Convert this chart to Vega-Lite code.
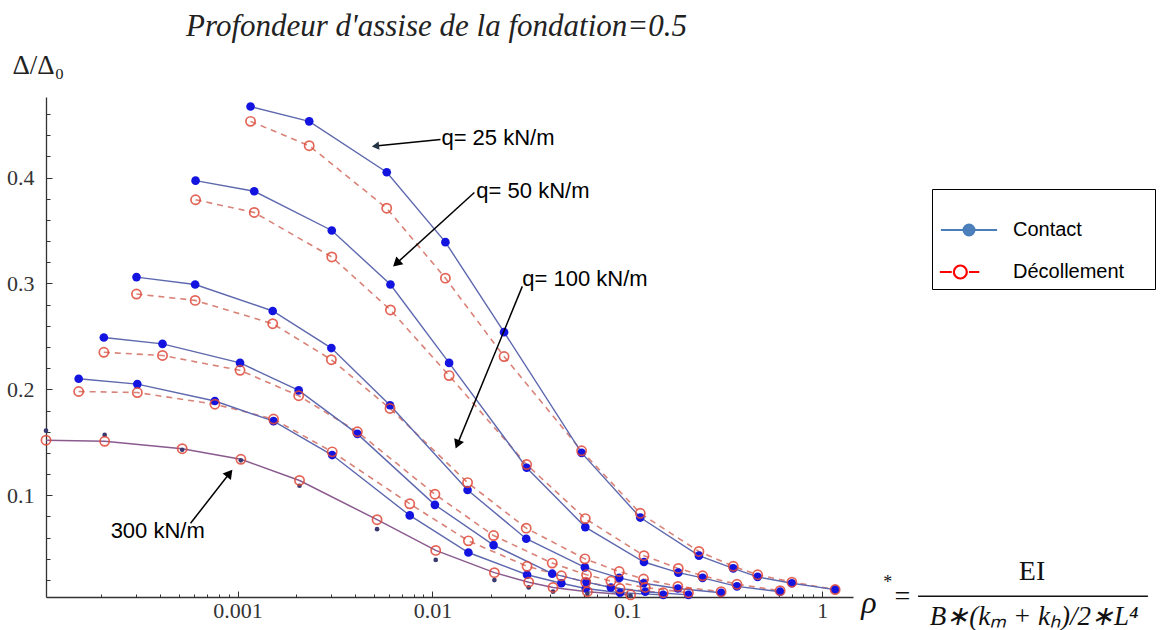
{
  "$schema": "https://vega.github.io/schema/vega-lite/v6.json",
  "width": 807,
  "height": 500,
  "autosize": {"type": "none"},
  "padding": {"left": 46, "top": 97, "right": 312, "bottom": 33},
  "background": "white",
  "title": {"text": "Profondeur d'assise de la fondation=0.5", "font": "Liberation Serif", "fontSize": 31, "fontStyle": "italic", "fontWeight": "normal", "color": "#222", "anchor": "middle", "frame": "group", "dx": -13, "offset": 8},
  "config": {
    "view": {"stroke": null},
    "axis": {"grid": false, "domainColor": "#333", "tickColor": "#333", "labelFont": "Liberation Serif", "labelFontSize": 22, "labelColor": "#333"}
  },
  "datasets": {
    "curves": [
      {"q":25,"type":"Contact","rho":0.001166,"d":0.467},{"q":25,"type":"Contact","rho":0.002332,"d":0.453},{"q":25,"type":"Contact","rho":0.00583,"d":0.405},{"q":25,"type":"Contact","rho":0.01166,"d":0.339},{"q":25,"type":"Contact","rho":0.02332,"d":0.254},{"q":25,"type":"Contact","rho":0.0583,"d":0.140},{"q":25,"type":"Contact","rho":0.1166,"d":0.079},{"q":25,"type":"Contact","rho":0.2332,"d":0.043},{"q":25,"type":"Contact","rho":0.3498,"d":0.031},{"q":25,"type":"Contact","rho":0.4664,"d":0.023},{"q":25,"type":"Contact","rho":0.6996,"d":0.017},{"q":25,"type":"Contact","rho":1.166,"d":0.011},
      {"q":25,"type":"Décollement","rho":0.001166,"d":0.453},{"q":25,"type":"Décollement","rho":0.002332,"d":0.430},{"q":25,"type":"Décollement","rho":0.00583,"d":0.371},{"q":25,"type":"Décollement","rho":0.01166,"d":0.305},{"q":25,"type":"Décollement","rho":0.02332,"d":0.231},{"q":25,"type":"Décollement","rho":0.0583,"d":0.142},{"q":25,"type":"Décollement","rho":0.1166,"d":0.083},{"q":25,"type":"Décollement","rho":0.2332,"d":0.047},{"q":25,"type":"Décollement","rho":0.3498,"d":0.033},{"q":25,"type":"Décollement","rho":0.4664,"d":0.025},{"q":25,"type":"Décollement","rho":0.6996,"d":0.018},{"q":25,"type":"Décollement","rho":1.166,"d":0.011},
      {"q":50,"type":"Contact","rho":0.000609,"d":0.397},{"q":50,"type":"Contact","rho":0.001218,"d":0.387},{"q":50,"type":"Contact","rho":0.003045,"d":0.350},{"q":50,"type":"Contact","rho":0.00609,"d":0.299},{"q":50,"type":"Contact","rho":0.01218,"d":0.225},{"q":50,"type":"Contact","rho":0.03045,"d":0.126},{"q":50,"type":"Contact","rho":0.0609,"d":0.070},{"q":50,"type":"Contact","rho":0.1218,"d":0.037},{"q":50,"type":"Contact","rho":0.1827,"d":0.027},{"q":50,"type":"Contact","rho":0.2436,"d":0.022},{"q":50,"type":"Contact","rho":0.3654,"d":0.014},{"q":50,"type":"Contact","rho":0.609,"d":0.009},
      {"q":50,"type":"Décollement","rho":0.000609,"d":0.379},{"q":50,"type":"Décollement","rho":0.001218,"d":0.367},{"q":50,"type":"Décollement","rho":0.003045,"d":0.325},{"q":50,"type":"Décollement","rho":0.00609,"d":0.275},{"q":50,"type":"Décollement","rho":0.01218,"d":0.213},{"q":50,"type":"Décollement","rho":0.03045,"d":0.129},{"q":50,"type":"Décollement","rho":0.0609,"d":0.078},{"q":50,"type":"Décollement","rho":0.1218,"d":0.043},{"q":50,"type":"Décollement","rho":0.1827,"d":0.031},{"q":50,"type":"Décollement","rho":0.2436,"d":0.024},{"q":50,"type":"Décollement","rho":0.3654,"d":0.016},{"q":50,"type":"Décollement","rho":0.609,"d":0.010},
      {"q":100,"type":"Contact","rho":0.000303,"d":0.306},{"q":100,"type":"Contact","rho":0.000606,"d":0.299},{"q":100,"type":"Contact","rho":0.001515,"d":0.274},{"q":100,"type":"Contact","rho":0.00303,"d":0.239},{"q":100,"type":"Contact","rho":0.00606,"d":0.185},{"q":100,"type":"Contact","rho":0.01515,"d":0.105},{"q":100,"type":"Contact","rho":0.0303,"d":0.059},{"q":100,"type":"Contact","rho":0.0606,"d":0.032},{"q":100,"type":"Contact","rho":0.0909,"d":0.022},{"q":100,"type":"Contact","rho":0.1212,"d":0.017},{"q":100,"type":"Contact","rho":0.1818,"d":0.012},{"q":100,"type":"Contact","rho":0.303,"d":0.008},
      {"q":100,"type":"Décollement","rho":0.000303,"d":0.290},{"q":100,"type":"Décollement","rho":0.000606,"d":0.284},{"q":100,"type":"Décollement","rho":0.001515,"d":0.262},{"q":100,"type":"Décollement","rho":0.00303,"d":0.228},{"q":100,"type":"Décollement","rho":0.00606,"d":0.182},{"q":100,"type":"Décollement","rho":0.01515,"d":0.112},{"q":100,"type":"Décollement","rho":0.0303,"d":0.069},{"q":100,"type":"Décollement","rho":0.0606,"d":0.040},{"q":100,"type":"Décollement","rho":0.0909,"d":0.028},{"q":100,"type":"Décollement","rho":0.1212,"d":0.021},{"q":100,"type":"Décollement","rho":0.1818,"d":0.014},{"q":100,"type":"Décollement","rho":0.303,"d":0.009},
      {"q":150,"type":"Contact","rho":0.000206,"d":0.249},{"q":150,"type":"Contact","rho":0.000412,"d":0.243},{"q":150,"type":"Contact","rho":0.00103,"d":0.225},{"q":150,"type":"Contact","rho":0.00206,"d":0.199},{"q":150,"type":"Contact","rho":0.00412,"d":0.158},{"q":150,"type":"Contact","rho":0.0103,"d":0.091},{"q":150,"type":"Contact","rho":0.0206,"d":0.053},{"q":150,"type":"Contact","rho":0.0412,"d":0.026},{"q":150,"type":"Contact","rho":0.0618,"d":0.018},{"q":150,"type":"Contact","rho":0.0824,"d":0.013},{"q":150,"type":"Contact","rho":0.1236,"d":0.009},{"q":150,"type":"Contact","rho":0.206,"d":0.006},
      {"q":150,"type":"Décollement","rho":0.000206,"d":0.235},{"q":150,"type":"Décollement","rho":0.000412,"d":0.232},{"q":150,"type":"Décollement","rho":0.00103,"d":0.218},{"q":150,"type":"Décollement","rho":0.00206,"d":0.194},{"q":150,"type":"Décollement","rho":0.00412,"d":0.160},{"q":150,"type":"Décollement","rho":0.0103,"d":0.101},{"q":150,"type":"Décollement","rho":0.0206,"d":0.062},{"q":150,"type":"Décollement","rho":0.0412,"d":0.036},{"q":150,"type":"Décollement","rho":0.0618,"d":0.025},{"q":150,"type":"Décollement","rho":0.0824,"d":0.019},{"q":150,"type":"Décollement","rho":0.1236,"d":0.013},{"q":150,"type":"Décollement","rho":0.206,"d":0.008},
      {"q":200,"type":"Contact","rho":0.000153,"d":0.210},{"q":200,"type":"Contact","rho":0.000306,"d":0.205},{"q":200,"type":"Contact","rho":0.000765,"d":0.189},{"q":200,"type":"Contact","rho":0.00153,"d":0.170},{"q":200,"type":"Contact","rho":0.00306,"d":0.138},{"q":200,"type":"Contact","rho":0.00765,"d":0.081},{"q":200,"type":"Contact","rho":0.0153,"d":0.046},{"q":200,"type":"Contact","rho":0.0306,"d":0.025},{"q":200,"type":"Contact","rho":0.0459,"d":0.017},{"q":200,"type":"Contact","rho":0.0612,"d":0.012},{"q":200,"type":"Contact","rho":0.0918,"d":0.008},{"q":200,"type":"Contact","rho":0.153,"d":0.006},
      {"q":200,"type":"Décollement","rho":0.000153,"d":0.198},{"q":200,"type":"Décollement","rho":0.000306,"d":0.197},{"q":200,"type":"Décollement","rho":0.000765,"d":0.186},{"q":200,"type":"Décollement","rho":0.00153,"d":0.172},{"q":200,"type":"Décollement","rho":0.00306,"d":0.141},{"q":200,"type":"Décollement","rho":0.00765,"d":0.092},{"q":200,"type":"Décollement","rho":0.0153,"d":0.057},{"q":200,"type":"Décollement","rho":0.0306,"d":0.033},{"q":200,"type":"Décollement","rho":0.0459,"d":0.024},{"q":200,"type":"Décollement","rho":0.0612,"d":0.018},{"q":200,"type":"Décollement","rho":0.0918,"d":0.012},{"q":200,"type":"Décollement","rho":0.153,"d":0.008},
      {"q":300,"type":"Contact","rho":0.000104,"d":0.161},{"q":300,"type":"Contact","rho":0.000208,"d":0.157},{"q":300,"type":"Contact","rho":0.00052,"d":0.143},{"q":300,"type":"Contact","rho":0.00104,"d":0.133},{"q":300,"type":"Contact","rho":0.00208,"d":0.109},{"q":300,"type":"Contact","rho":0.0052,"d":0.068},{"q":300,"type":"Contact","rho":0.0104,"d":0.039},{"q":300,"type":"Contact","rho":0.0208,"d":0.020},{"q":300,"type":"Contact","rho":0.0312,"d":0.013},{"q":300,"type":"Contact","rho":0.0416,"d":0.009},{"q":300,"type":"Contact","rho":0.0624,"d":0.007},{"q":300,"type":"Contact","rho":0.104,"d":0.005},
      {"q":300,"type":"Décollement","rho":0.000104,"d":0.152},{"q":300,"type":"Décollement","rho":0.000208,"d":0.151},{"q":300,"type":"Décollement","rho":0.00052,"d":0.144},{"q":300,"type":"Décollement","rho":0.00104,"d":0.134},{"q":300,"type":"Décollement","rho":0.00208,"d":0.114},{"q":300,"type":"Décollement","rho":0.0052,"d":0.077},{"q":300,"type":"Décollement","rho":0.0104,"d":0.048},{"q":300,"type":"Décollement","rho":0.0208,"d":0.027},{"q":300,"type":"Décollement","rho":0.0312,"d":0.018},{"q":300,"type":"Décollement","rho":0.0416,"d":0.013},{"q":300,"type":"Décollement","rho":0.0624,"d":0.009},{"q":300,"type":"Décollement","rho":0.104,"d":0.006}
    ],
    "arrows": [
      {"id":1,"rho":0.0110,"d":0.4358,"rho2":0.005101,"d2":0.4297},
      {"id":2,"rho":0.01642,"d":0.3858,"rho2":0.006538,"d2":0.3189},
      {"id":3,"rho":0.02893,"d":0.2972,"rho2":0.01343,"d2":0.1481},
      {"id":4,"rho":0.000574,"d":0.0736,"rho2":0.000910,"d2":0.1208}
    ],
    "labels": [
      {"text":"q= 25 kN/m","rho":0.01112,"d":0.4377},
      {"text":"q= 50 kN/m","rho":0.01681,"d":0.3868},
      {"text":"q= 100 kN/m","rho":0.02893,"d":0.3038},
      {"text":"300 kN/m","rho":0.0002232,"d":0.066}
    ],
    "formula": [
      {"part":"rho","text":"ρ","rho":1.74,"d":-0.002},
      {"part":"star","text":"*","rho":2.17,"d":0.017},
      {"part":"eq","text":"=","rho":2.58,"d":0.004},
      {"part":"num","text":"EI","rho":11.94,"d":0.0274},
      {"part":"den","text":"B∗(kₘ + kₕ)/2∗L⁴","rho":12.23,"d":-0.0145}
    ],
    "bar": [{"rho":3.107,"rho2":46.98,"d":0.0047}]
  },
  "encoding": {
    "x": {"field": "rho", "type": "quantitative",
      "scale": {"type": "log", "domain": [0.000104, 1.44], "nice": false},
      "axis": {"title": null,
        "values": [0.0002,0.0003,0.0004,0.0005,0.0006,0.0007,0.0008,0.0009,0.001,0.002,0.003,0.004,0.005,0.006,0.007,0.008,0.009,0.01,0.02,0.03,0.04,0.05,0.06,0.07,0.08,0.09,0.1,0.2,0.3,0.4,0.5,0.6,0.7,0.8,0.9,1],
        "labelExpr": "(datum.value==0.001||datum.value==0.01||datum.value==0.1||datum.value==1) ? format(datum.value, '~g') : ''",
        "tickSize": {"condition": {"test": "datum.value==0.001||datum.value==0.01||datum.value==0.1||datum.value==1", "value": -6}, "value": -3},
        "labelFont": "Liberation Serif", "labelFontSize": 22, "labelColor": "#333",
        "labelPadding": 9, "labelOverlap": false, "labelFlush": false, "domainWidth": 1.3}},
    "y": {"field": "d", "type": "quantitative",
      "scale": {"domain": [0.004, 0.476], "nice": false, "zero": false},
      "axis": {"title": "Δ/Δ₀", "titleAngle": 0, "titleAlign": "left", "titleBaseline": "middle", "titleX": -34, "titleY": -32,
        "titleFont": "Liberation Serif", "titleFontSize": 27, "titleFontWeight": "normal", "titleColor": "#222",
        "values": [0.02,0.04,0.06,0.08,0.1,0.12,0.14,0.16,0.18,0.2,0.22,0.24,0.26,0.28,0.3,0.32,0.34,0.36,0.38,0.4,0.42,0.44,0.46],
        "labelExpr": "(datum.value==0.1||datum.value==0.2||datum.value==0.3||datum.value==0.4) ? format(datum.value, '.1f') : ''",
        "tickSize": {"condition": {"test": "datum.value==0.1||datum.value==0.2||datum.value==0.3||datum.value==0.4", "value": -6}, "value": -4},
        "labelFont": "Liberation Serif", "labelFontSize": 22, "labelColor": "#333",
        "labelPadding": 18, "labelOverlap": false, "domainWidth": 1.3}}
  },
  "layer": [
    {"data": {"name": "curves"}, "transform": [{"filter": "datum.type == 'Décollement' && datum.q != 300"}],
     "mark": {"type": "line", "stroke": "#d98378", "strokeWidth": 1.6, "strokeDash": [6, 5]},
     "encoding": {"detail": {"field": "q"}}},
    {"data": {"name": "curves"}, "transform": [{"filter": "datum.type == 'Décollement' && datum.q == 300"}],
     "mark": {"type": "line", "stroke": "#8a5a8e", "strokeWidth": 1.5},
     "encoding": {"detail": {"field": "q"}}},
    {"data": {"name": "curves"}, "transform": [{"filter": "datum.type == 'Contact' && datum.q != 300"}],
     "mark": {"type": "line", "stroke": "#5d68ae", "strokeWidth": 1.4},
     "encoding": {"detail": {"field": "q"}}},
    {"data": {"name": "curves"}, "transform": [{"filter": "datum.type == 'Contact' && datum.q != 300"}],
     "mark": {"type": "point", "filled": true, "fill": "#1414e0", "size": 75, "opacity": 1}},
    {"data": {"name": "curves"}, "transform": [{"filter": "datum.type == 'Contact' && datum.q == 300"}],
     "mark": {"type": "point", "filled": true, "fill": "#3a3a70", "size": 22, "opacity": 1}},
    {"data": {"name": "curves"}, "transform": [{"filter": "datum.type == 'Décollement'"}],
     "mark": {"type": "point", "filled": false, "stroke": "#e04a3a", "strokeWidth": 1.7, "size": 85, "opacity": 0.85}},
    {"data": {"name": "curves"},
     "mark": {"type": "point", "opacity": 0},
     "encoding": {
       "shape": {"field": "type", "type": "nominal", "scale": {"domain": ["Contact", "Décollement"], "range": ["M-2.6,0L2.6,0M0.5,0A0.5,0.5,0,1,1,-0.5,0A0.5,0.5,0,1,1,0.5,0ZM16.2,0", "M-2.7,0L-1.6,0M0,0L0.95,0M-0.2,0A0.6,0.6,0,1,1,-1.4,0A0.6,0.6,0,1,1,-0.2,0ZM16.2,0"]},
         "legend": {"title": " ", "titleFontSize": 18, "titlePadding": 5, "orient": "none", "legendX": 886, "legendY": 92, "padding": 6, "strokeColor": "black",
           "symbolSize": 467, "symbolStrokeWidth": 2.2, "symbolOpacity": 1, "symbolOffset": 19, "labelOffset": 32, "rowPadding": 20,
           "labelFont": "Liberation Sans", "labelFontSize": 20, "labelColor": "black", "labelLimit": 300,
           "encode": {"legend": {"update": {"strokeWidth": {"value": 2.5}}}}}},
       "fill": {"field": "type", "type": "nominal", "scale": {"domain": ["Contact", "Décollement"], "range": ["#4f81bd", "#ffffff"]}},
       "stroke": {"field": "type", "type": "nominal", "scale": {"domain": ["Contact", "Décollement"], "range": ["#4a7ebb", "#ff0000"]}}
     }},
    {"data": {"name": "arrows"},
     "mark": {"type": "rule", "color": "black", "strokeWidth": 1.5},
     "encoding": {"x2": {"field": "rho2"}, "y2": {"field": "d2"}}},
    {"data": {"name": "arrows"}, "transform": [{"filter": "datum.id == 1"}],
     "mark": {"type": "point", "shape": "triangle-up", "angle": 264, "filled": true, "color": "#223344", "size": 70, "opacity": 1},
     "encoding": {"x": {"field": "rho2"}, "y": {"field": "d2"}}},
    {"data": {"name": "arrows"}, "transform": [{"filter": "datum.id == 2"}],
     "mark": {"type": "point", "shape": "triangle-up", "angle": 228, "filled": true, "color": "black", "size": 110, "opacity": 1},
     "encoding": {"x": {"field": "rho2"}, "y": {"field": "d2"}}},
    {"data": {"name": "arrows"}, "transform": [{"filter": "datum.id == 3"}],
     "mark": {"type": "point", "shape": "triangle-up", "angle": 202, "filled": true, "color": "black", "size": 110, "opacity": 1},
     "encoding": {"x": {"field": "rho2"}, "y": {"field": "d2"}}},
    {"data": {"name": "arrows"}, "transform": [{"filter": "datum.id == 4"}],
     "mark": {"type": "point", "shape": "triangle-up", "angle": 38, "filled": true, "color": "black", "size": 110, "opacity": 1},
     "encoding": {"x": {"field": "rho2"}, "y": {"field": "d2"}}},
    {"data": {"name": "labels"},
     "mark": {"type": "text", "align": "left", "baseline": "middle", "font": "Liberation Sans", "fontSize": 22, "color": "black"},
     "encoding": {"text": {"field": "text"}}},
    {"data": {"name": "formula"}, "transform": [{"filter": "datum.part == 'rho'"}],
     "mark": {"type": "text", "align": "center", "baseline": "middle", "font": "Liberation Serif", "fontStyle": "italic", "fontSize": 32, "color": "#111"},
     "encoding": {"text": {"field": "text"}}},
    {"data": {"name": "formula"}, "transform": [{"filter": "datum.part == 'star'"}],
     "mark": {"type": "text", "align": "center", "baseline": "middle", "font": "Liberation Serif", "fontSize": 18, "color": "#111"},
     "encoding": {"text": {"field": "text"}}},
    {"data": {"name": "formula"}, "transform": [{"filter": "datum.part == 'eq'"}],
     "mark": {"type": "text", "align": "center", "baseline": "middle", "font": "Liberation Serif", "fontSize": 28, "color": "#111"},
     "encoding": {"text": {"field": "text"}}},
    {"data": {"name": "formula"}, "transform": [{"filter": "datum.part == 'num'"}],
     "mark": {"type": "text", "align": "center", "baseline": "middle", "font": "Liberation Serif", "fontSize": 28, "color": "#111"},
     "encoding": {"text": {"field": "text"}}},
    {"data": {"name": "formula"}, "transform": [{"filter": "datum.part == 'den'"}],
     "mark": {"type": "text", "align": "center", "baseline": "middle", "font": "Liberation Serif", "fontStyle": "italic", "fontSize": 27, "color": "#111"},
     "encoding": {"text": {"field": "text"}}},
    {"data": {"name": "bar"},
     "mark": {"type": "rule", "color": "#111", "strokeWidth": 1.3},
     "encoding": {"x2": {"field": "rho2"}}}
  ]
}
